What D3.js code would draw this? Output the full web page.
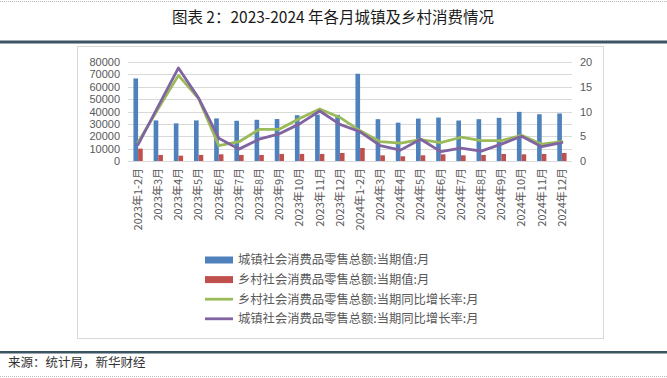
<!DOCTYPE html>
<html>
<head>
<meta charset="utf-8">
<script src="https://cdn.jsdelivr.net/npm/d3@7"></script>
<style>
  html, body { margin: 0; padding: 0; background: #fff; }
  svg { display: block; }
</style>
</head>
<body>
<div id="chart"></div>
<script>
const width  = 667;
const height = 378;

// categories
const months = ['2023年1-2月','2023年3月','2023年4月','2023年5月','2023年6月','2023年7月',
  '2023年8月','2023年9月','2023年10月','2023年11月','2023年12月',
  '2024年1-2月','2024年3月','2024年4月','2024年5月','2024年6月','2024年7月',
  '2024年8月','2024年9月','2024年10月','2024年11月','2024年12月'];

// 城镇社会消费品零售总额:当期值 (亿元)
const urbanValue = [66700, 32800, 30400, 32800, 34400, 32500, 33300, 33900, 37000, 37500, 37300,
  70500, 33800, 31000, 34300, 35100, 32700, 33800, 34900, 39700, 37800, 38400];
// 乡村社会消费品零售总额:当期值
const ruralValue = [10000, 4900, 4300, 4900, 5400, 4900, 4900, 5700, 5700, 5700, 6500,
  10500, 4600, 3800, 4600, 5400, 4600, 4900, 5700, 5400, 5700, 6500];
// 当期同比增长率 (%)
const ruralGrowth = [3.8, 10.6, 17.3, 12.6, 3.1, 3.9, 6.4, 6.4, 8.6, 10.5, 8.8,
  6.1, 3.9, 3.6, 4.3, 3.7, 4.8, 4.1, 4.1, 5.2, 3.4, 3.9];
const urbanGrowth = [3.3, 11.1, 18.8, 12.7, 4.6, 2.4, 4.4, 5.5, 7.5, 10.1, 7.4,
  5.9, 3.1, 2.2, 4.4, 1.9, 2.6, 2.0, 3.4, 5.0, 2.9, 3.7];

const leftTicks  = [0, 10000, 20000, 30000, 40000, 50000, 60000, 70000, 80000];
const rightTicks = [0, 5, 10, 15, 20];

const legendNames = ['城镇社会消费品零售总额:当期值:月', '乡村社会消费品零售总额:当期值:月',
  '乡村社会消费品零售总额:当期同比增长率:月', '城镇社会消费品零售总额:当期同比增长率:月'];

const C = {blue: '#4f81bd', red: '#c0504d', green: '#9bbb59', purple: '#8064a2', text: '#595959'};
const cjk = '"Noto Sans CJK SC", "Liberation Sans", sans-serif';
const num = '"Liberation Sans", Arial, sans-serif';

const svg = d3.select('#chart').append('svg')
  .attr('width', width).attr('height', height);

// page furniture
svg.append('line')
  .attr('x1', 0).attr('x2', width).attr('y1', 1.5).attr('y2', 1.5)
  .attr('stroke', '#bbb').attr('stroke-dasharray', '1,1');
svg.append('text')
  .attr('x', 333).attr('y', 23)
  .attr('text-anchor', 'middle')
  .attr('font-family', cjk).attr('font-size', 15.5).attr('fill', '#1a1a1a')
  .text('图表 2：2023-2024 年各月城镇及乡村消费情况');
svg.append('rect')
  .attr('x', 0).attr('y', 40.5).attr('width', width).attr('height', 3)
  .attr('fill', '#3b5563');

// chart frame
svg.append('rect')
  .attr('x', 77.5).attr('y', 46.5).attr('width', 526).attr('height', 292)
  .attr('fill', '#fff').attr('stroke', '#d9d9d9');

const plot = {l: 128, r: 572, t: 62, b: 161};

const x = d3.scaleBand().domain(months).range([plot.l, plot.r]);
const bw = x.bandwidth();
const x1 = d3.scaleBand().domain(['u', 'r']).range([bw * 0.27, bw * 0.73]);
const yL = d3.scaleLinear().domain([0, 80000]).range([plot.b, plot.t]);
const yR = d3.scaleLinear().domain([0, 20]).range([plot.b, plot.t]);

// grid
svg.append('g')
  .selectAll('line').data(leftTicks).join('line')
  .attr('x1', plot.l).attr('x2', plot.r)
  .attr('y1', d => Math.round(yL(d)) + 0.5).attr('y2', d => Math.round(yL(d)) + 0.5)
  .attr('stroke', '#d9d9d9');

// axes
const axL = svg.append('g')
  .attr('transform', `translate(${plot.l - 6}, 0)`)
  .call(d3.axisLeft(yL).tickValues(leftTicks).tickSize(0).tickPadding(2).tickFormat(d3.format('d')));
const axR = svg.append('g')
  .attr('transform', `translate(${plot.r + 6}, 0)`)
  .call(d3.axisRight(yR).tickValues(rightTicks).tickSize(0).tickPadding(2));
[axL, axR].forEach(a => {
  a.select('.domain').remove();
  a.selectAll('text').attr('font-family', num).attr('font-size', 11).attr('fill', C.text);
});

const axB = svg.append('g')
  .attr('transform', `translate(0, ${plot.b})`)
  .call(d3.axisBottom(x).tickSize(0).tickPadding(0));
axB.select('.domain').remove();
axB.selectAll('text')
  .attr('font-family', cjk).attr('font-size', 11).attr('fill', C.text)
  .attr('text-anchor', 'end')
  .attr('transform', 'translate(0, 7) rotate(-90)')
  .attr('x', 0).attr('y', 0).attr('dy', '0.35em');

// bars
svg.append('g').selectAll('rect').data(urbanValue).join('rect')
  .attr('x', (d, i) => x(months[i]) + x1('u'))
  .attr('width', x1.bandwidth())
  .attr('y', d => yL(d)).attr('height', d => yL(0) - yL(d))
  .attr('fill', C.blue);
svg.append('g').selectAll('rect').data(ruralValue).join('rect')
  .attr('x', (d, i) => x(months[i]) + x1('r'))
  .attr('width', x1.bandwidth())
  .attr('y', d => yL(d)).attr('height', d => yL(0) - yL(d))
  .attr('fill', C.red);

// lines
const line = d3.line().x((d, i) => x(months[i]) + bw / 2).y(d => yR(d));
[[ruralGrowth, C.green], [urbanGrowth, C.purple]].forEach(([s, col]) => {
  svg.append('path')
    .datum(s)
    .attr('fill', 'none').attr('stroke', col).attr('stroke-width', 2.8)
    .attr('stroke-linejoin', 'round').attr('stroke-linecap', 'round')
    .attr('d', line);
});

// legend
const lg = svg.append('g').attr('transform', 'translate(205, 260)');
const rowH = 19.6;
legendNames.forEach((name, i) => {
  const g = lg.append('g').attr('transform', `translate(0, ${i * rowH})`);
  if (i < 2) {
    g.append('rect').attr('x', 0).attr('y', -3.5).attr('width', 28).attr('height', 7)
      .attr('fill', i == 0 ? C.blue : C.red);
  } else {
    g.append('line').attr('x1', 0).attr('x2', 28).attr('y1', 0).attr('y2', 0)
      .attr('stroke', i == 2 ? C.green : C.purple).attr('stroke-width', 2.8);
  }
  g.append('text')
    .attr('x', 33).attr('y', 0).attr('dy', '0.35em')
    .attr('font-family', cjk).attr('font-size', 12.3).attr('fill', C.text)
    .text(name);
});

// footer
svg.append('rect')
  .attr('x', 0).attr('y', 351).attr('width', width).attr('height', 2.5)
  .attr('fill', '#3b5563');
svg.append('text')
  .attr('x', 8).attr('y', 367)
  .attr('font-family', cjk).attr('font-size', 12.5).attr('fill', '#333')
  .text('来源：统计局，新华财经');
svg.append('line')
  .attr('x1', 0).attr('x2', width).attr('y1', 376.5).attr('y2', 376.5)
  .attr('stroke', '#bbb').attr('stroke-dasharray', '1,1');
</script>
</body>
</html>
